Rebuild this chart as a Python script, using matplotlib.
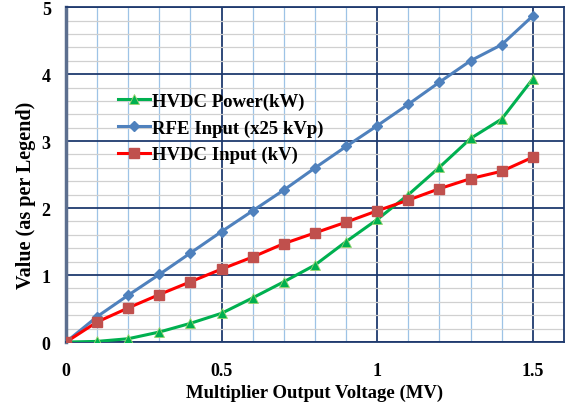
import matplotlib; matplotlib.use('Agg')
import matplotlib.pyplot as plt
from matplotlib.ticker import MultipleLocator

x_mv       = [0, 0.1, 0.2, 0.3, 0.4, 0.5, 0.6, 0.7, 0.8, 0.9, 1.0, 1.1, 1.2, 1.3, 1.4, 1.5]
hvdc_power = [0, 0.01, 0.05, 0.15, 0.28, 0.43, 0.66, 0.90, 1.15, 1.50, 1.83, 2.20, 2.61, 3.04, 3.33, 3.93]
rfe_input  = [0, 0.38, 0.70, 1.01, 1.33, 1.65, 1.96, 2.27, 2.60, 2.92, 3.23, 3.55, 3.88, 4.20, 4.44, 4.87]
hvdc_input = [0, 0.30, 0.51, 0.71, 0.90, 1.09, 1.27, 1.47, 1.63, 1.79, 1.96, 2.12, 2.29, 2.44, 2.55, 2.76]

plt.rcParams['font.family'] = ['Liberation Serif', 'DejaVu Serif']
plt.rcParams['font.weight'] = 'bold'

navy = '#1F3A6E'

fig = plt.figure(figsize=(5.67, 4.06), dpi=100)
ax = fig.add_axes([0.1164, 0.155, 0.8783, 0.825])

ax.plot(x_mv, hvdc_power, color='#00B050', lw=2.2, marker='^', ms=7,
        mfc='#00B050', mec='#9BD46E', mew=0.6, label='HVDC Power(kW)', zorder=3)
ax.plot(x_mv, rfe_input, color='#4F81BD', lw=2.2, marker='D', ms=5.5,
        mfc='#4F81BD', mec='#4F81BD', label='RFE Input (x25 kVp)', zorder=4)
ax.plot(x_mv, hvdc_input, color='#FF0000', lw=2.2, marker='s', ms=7,
        mfc='#C0504D', mec='#C0504D', label='HVDC Input (kV)', zorder=5)

ax.set_xlim(0, 1.6)
ax.set_ylim(0, 5)
ax.xaxis.set_minor_locator(MultipleLocator(0.1))
ax.yaxis.set_major_locator(MultipleLocator(1))
ax.yaxis.set_minor_locator(MultipleLocator(0.2))
ax.set_xticks([0, 0.5, 1, 1.5])
ax.set_xticklabels(['0', '0.5', '1', '1.5'])

ax.grid(which='minor', axis='x', color='#9DC3E6', lw=0.9, zorder=0)
ax.grid(which='minor', axis='y', color='#D0D0D0', lw=0.9, zorder=0)
ax.grid(which='major', color=navy, lw=1.3, zorder=1)
ax.set_axisbelow(True)

for s in ax.spines.values():
    s.set_color(navy)
    s.set_linewidth(1.3)
ax.spines['left'].set_color('#5C6F8F')
ax.spines['left'].set_linewidth(2.5)

ax.tick_params(which='both', length=0)
ax.tick_params(axis='y', pad=11, labelsize=13)
ax.tick_params(axis='x', pad=14, labelsize=13)

ax.set_xlabel('Multiplier Output Voltage (MV)', fontsize=13.5, fontweight='bold', labelpad=4)
ax.set_ylabel('Value (as per Legend)', fontsize=14.5, fontweight='bold')
ax.yaxis.set_label_coords(-0.06, 0.44)

leg = ax.legend(loc='upper left', bbox_to_anchor=(0.104, 0.745), frameon=False,
                borderpad=0, borderaxespad=0,
                fontsize=13.5, handlelength=1.7, handletextpad=0.15, labelspacing=0.5)

plt.savefig('out.png', dpi=100)
